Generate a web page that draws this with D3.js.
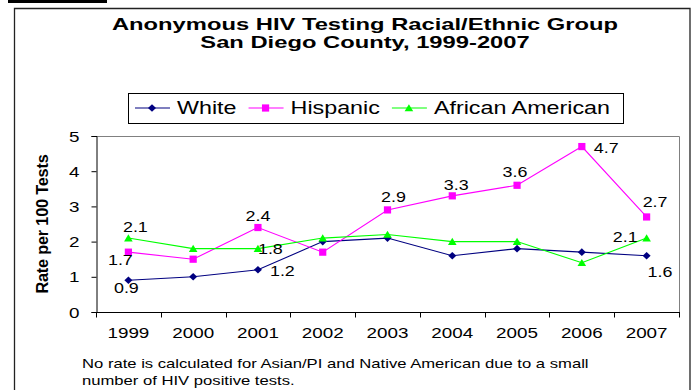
<!DOCTYPE html>
<html>
<head>
<meta charset="utf-8">
<script src="https://cdn.jsdelivr.net/npm/d3@7"></script>
<style>
  html, body { margin: 0; padding: 0; background: #fff; }
  svg { display: block; font-family: "Liberation Sans", Arial, sans-serif; }
</style>
</head>
<body>
<svg id="chart" width="698" height="390"></svg>
<script>
// Anonymous HIV testing: positive rate per 100 tests, by racial/ethnic group
const years = ["1999", "2000", "2001", "2002", "2003", "2004", "2005", "2006", "2007"];
const white = [0.9, 1.0, 1.2, 2.0, 2.1, 1.6, 1.8, 1.7, 1.6];
const hispanic = [1.7, 1.5, 2.4, 1.7, 2.9, 3.3, 3.6, 4.7, 2.7];
const africanAmerican = [2.1, 1.8, 1.8, 2.1, 2.2, 2.0, 2.0, 1.4, 2.1];
const seriesNames = ["White", "Hispanic", "African American"];
const yTicks = [0, 1, 2, 3, 4, 5];
const titleLines = ["Anonymous HIV Testing Racial/Ethnic Group", "San Diego County, 1999-2007"];
const yTitle = "Rate per 100 Tests";
const footnote = [
  "No rate is calculated for Asian/PI and Native American due to a small",
  "number of HIV positive tests."
];

// Which points carry a value label, and where the label sits around the point
const labelSpots = [
  { s: 0, i: 0, dx: -2, dy: 13, anchor: "middle" },
  { s: 0, i: 2, dx: 12, dy: 6, anchor: "start" },
  { s: 0, i: 8, dx: 1, dy: 21, anchor: "start" },
  { s: 1, i: 0, dx: -8, dy: 13, anchor: "middle" },
  { s: 1, i: 2, dx: 0, dy: -7, anchor: "middle" },
  { s: 1, i: 4, dx: 6, dy: -8, anchor: "middle" },
  { s: 1, i: 5, dx: 4, dy: -5.5, anchor: "middle" },
  { s: 1, i: 6, dx: -2, dy: -8.5, anchor: "middle" },
  { s: 1, i: 7, dx: 12, dy: 6, anchor: "start" },
  { s: 1, i: 8, dx: 8.5, dy: -10, anchor: "middle" },
  { s: 2, i: 0, dx: 7, dy: -6.5, anchor: "middle" },
  { s: 2, i: 2, dx: 0, dy: 5, anchor: "start" },
  { s: 2, i: 8, dx: -9, dy: 3.5, anchor: "end" }
];

const seriesValues = [white, hispanic, africanAmerican];
const colors = ["#000080", "#ff00ff", "#00ff00"];
const SX = 1.28;          // horizontal stretch of the label typeface

const svg = d3.select("#chart");

// text helper: horizontally stretched glyphs about the anchor point
function label(g, x, y, str, o) {
  return g.append("text")
    .attr("transform", `translate(${x},${y}) scale(${o.sx || SX},1)`)
    .attr("text-anchor", o.anchor || "start")
    .attr("font-size", o.size)
    .attr("font-weight", o.weight || "normal")
    .attr("fill", "#000")
    .text(str);
}

// marker shapes
function marker(g, s, x, y, c) {
  if (s === 0) {
    g.append("path").attr("d", `M${x - 4},${y}L${x},${y - 3.8}L${x + 4},${y}L${x},${y + 3.8}Z`).attr("fill", c);
  } else if (s === 1) {
    g.append("rect").attr("x", x - 3.6).attr("y", y - 3.6).attr("width", 7.2).attr("height", 7.2).attr("fill", c);
  } else {
    g.append("path").attr("d", `M${x - 4.3},${y + 3.3}L${x},${y - 3.8}L${x + 4.3},${y + 3.3}Z`).attr("fill", c);
  }
}

// cut-off heading rule and outer frame
svg.append("rect").attr("x", 8).attr("y", 0).attr("width", 99).attr("height", 3).attr("fill", "#000");
svg.append("path").attr("d", "M14.5,400V8.5H690V400").attr("fill", "none").attr("stroke", "#222").attr("stroke-width", 1.3);

// title
titleLines.forEach((t, k) => label(svg, 365, 29.5 + k * 18.2, t, { size: 16.5, weight: "bold", anchor: "middle", sx: 1.44 }));

// plot area
const plotL = 96, plotR = 679, plotT = 136, plotB = 312;
const x = d3.scaleBand().domain(years).range([plotL, plotR]);
const y = d3.scaleLinear().domain([0, 5]).range([plotB, plotT]);
const cx = d => x(d) + x.bandwidth() / 2;

// top and right frame of the plot area
svg.append("path").attr("d", `M${plotL},${plotT + 0.5}H${plotR + 0.5}V${plotB}`)
  .attr("fill", "none").attr("stroke", "#808080").attr("stroke-width", 1);

// y axis
const yAxis = svg.append("g").attr("transform", `translate(${plotL + 0.5},0)`)
  .call(d3.axisLeft(y).tickValues(yTicks).tickSize(5).tickFormat(d3.format("d")));
yAxis.select(".domain").attr("stroke", "#000");
yAxis.selectAll(".tick line").attr("stroke", "#000");
yAxis.selectAll(".tick text")
  .attr("x", 0).attr("dy", null)
  .attr("transform", `translate(-17,5) scale(1.3,1)`)
  .attr("font-size", 14.5).attr("font-family", "Liberation Sans, Arial, sans-serif").attr("fill", "#000");

// x axis: labels centred in bands, ticks on band boundaries
const xAxis = svg.append("g").attr("transform", `translate(0,${plotB + 0.5})`)
  .call(d3.axisBottom(x).tickSize(0).tickPadding(0));
xAxis.select(".domain").attr("d", `M${plotL},0H${plotR + 1}`).attr("stroke", "#000");
xAxis.selectAll(".tick text")
  .attr("y", 0).attr("dy", null)
  .attr("transform", `translate(0,25.5) scale(1.3,1)`)
  .attr("font-size", 14.5).attr("font-family", "Liberation Sans, Arial, sans-serif").attr("fill", "#000");
const bounds = years.map(d => x(d)).concat([plotR]);
svg.append("g").selectAll("line").data(bounds).join("line")
  .attr("x1", d => Math.round(d) + 0.5).attr("x2", d => Math.round(d) + 0.5)
  .attr("y1", plotB).attr("y2", plotB + 5.5)
  .attr("stroke", "#000");

// y axis title
svg.append("text")
  .attr("transform", `translate(48,${(plotT + plotB) / 2}) rotate(-90)`)
  .attr("text-anchor", "middle")
  .attr("font-size", 16.3).attr("font-weight", "bold").attr("letter-spacing", -0.2)
  .text(yTitle);

// series lines and markers
const line = d3.line().x((v, i) => cx(years[i])).y(v => y(v));
seriesValues.forEach((vals, s) => {
  const g = svg.append("g");
  g.append("path").attr("d", line(vals)).attr("fill", "none").attr("stroke", colors[s]).attr("stroke-width", 1.1);
  vals.forEach((v, i) => marker(g, s, cx(years[i]), y(v), colors[s]));
});

// value labels
const lab = svg.append("g");
labelSpots.forEach(p => {
  const v = seriesValues[p.s][p.i];
  label(lab, cx(years[p.i]) + p.dx, y(v) + p.dy, d3.format(".1f")(v), { size: 14, anchor: p.anchor });
});

// legend
const legY = 108;
const leg = svg.append("g");
leg.append("rect").attr("x", 128.5).attr("y", 93.5).attr("width", 495).attr("height", 30)
  .attr("fill", "#fff").attr("stroke", "#000").attr("stroke-width", 1);
let lx = 135;
seriesNames.forEach((name, s) => {
  leg.append("line").attr("x1", lx).attr("x2", lx + 35).attr("y1", legY).attr("y2", legY)
    .attr("stroke", colors[s]).attr("stroke-width", 1.1);
  marker(leg, s, lx + 17, legY, colors[s]);
  const t = label(leg, lx + 42, legY + 5.5, name, { size: 18.5, sx: 1.26 });
  lx += 42 + t.node().getComputedTextLength() * 1.26 + 12;
});

// footnote
footnote.forEach((t, k) => label(svg, 82, 368 + k * 17, t, { size: 13 }));
</script>
</body>
</html>
